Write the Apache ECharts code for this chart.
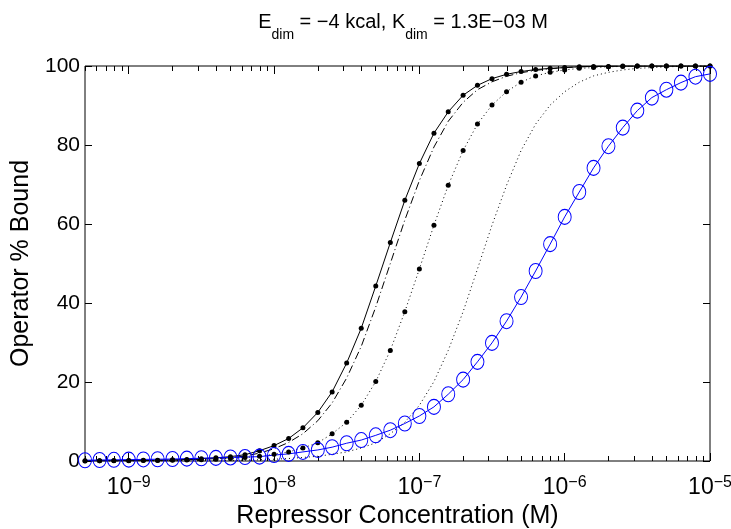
<!DOCTYPE html>
<html><head><meta charset="utf-8">
<script src="https://cdn.jsdelivr.net/npm/echarts@6/dist/echarts.min.js"></script>
<style>html,body{margin:0;padding:0;background:#fff}#c{width:731px;height:529px}</style>
</head><body><div id="c"></div>
<script>
// Repressor concentration (M) at each sampled point
const concentration = [5e-10, 6.3e-10, 7.9e-10, 1e-9, 1.26e-9, 1.58e-9, 2e-9, 2.51e-9, 3.16e-9, 3.98e-9,
  5.01e-9, 6.31e-9, 7.94e-9, 1e-8, 1.26e-8, 1.58e-8, 2e-8, 2.51e-8, 3.16e-8, 3.98e-8,
  5.01e-8, 6.31e-8, 7.94e-8, 1e-7, 1.26e-7, 1.58e-7, 2e-7, 2.51e-7, 3.16e-7, 3.98e-7,
  5.01e-7, 6.31e-7, 7.94e-7, 1e-6, 1.26e-6, 1.58e-6, 2e-6, 2.51e-6, 3.16e-6, 3.98e-6,
  5.01e-6, 6.31e-6, 7.94e-6, 1e-5];
// Operator % bound, per curve
const solidDots = [0.05, 0.07, 0.1, 0.13, 0.17, 0.22, 0.3, 0.4, 0.6, 0.8,
  1.1, 1.6, 2.6, 3.9, 5.7, 8.4, 12.3, 17.5, 24.8, 33.6,
  44.3, 55.3, 66.0, 75.3, 83.0, 88.4, 92.6, 95.1, 96.8, 97.9,
  98.6, 99.1, 99.4, 99.6, 99.8, 99.9, 99.9, 100, 100, 100,
  100, 100, 100, 100];
const dashDot = [0.04, 0.05, 0.07, 0.1, 0.13, 0.17, 0.22, 0.3, 0.45, 0.6,
  0.85, 1.25, 2.0, 3.1, 4.7, 6.9, 10.2, 14.7, 21.0, 29.0,
  39.0, 50.0, 61.0, 71.0, 79.5, 86.0, 90.8, 94.0, 96.0, 97.4,
  98.3, 98.9, 99.3, 99.6, 99.8, 99.9, 100, 100, 100, 100,
  100, 100, 100, 100];
const dottedDots = [0.03, 0.04, 0.05, 0.07, 0.1, 0.13, 0.17, 0.23, 0.32, 0.45,
  0.63, 0.9, 1.2, 1.7, 2.3, 3.3, 4.6, 6.9, 9.8, 14.1,
  20.1, 28.0, 37.8, 48.6, 59.7, 69.8, 78.6, 85.3, 90.1, 93.5,
  95.9, 97.5, 98.4, 99.0, 99.4, 99.6, 99.8, 99.9, 100, 100,
  100, 100, 100, 100];
const dotted = [0.01, 0.01, 0.02, 0.02, 0.03, 0.04, 0.05, 0.07, 0.1, 0.13,
  0.17, 0.23, 0.32, 0.45, 0.63, 0.9, 1.2, 1.7, 2.3, 3.3,
  4.6, 6.9, 9.8, 14.1, 20.1, 28.0, 37.8, 48.6, 59.7, 69.8,
  78.6, 85.3, 90.1, 93.5, 95.9, 97.5, 98.4, 99.0, 99.4, 99.6,
  99.8, 99.9, 100, 100];
const blueCircles = [0.2, 0.25, 0.3, 0.35, 0.4, 0.45, 0.5, 0.6, 0.7, 0.8,
  0.9, 1.0, 1.1, 1.5, 1.8, 2.3, 2.8, 3.5, 4.5, 5.3,
  6.5, 7.8, 9.5, 11.4, 13.7, 16.9, 20.6, 25.1, 29.9, 35.4,
  41.5, 48.1, 54.9, 61.8, 68.1, 74.2, 79.7, 84.4, 88.7, 92.0,
  94.0, 95.8, 97.3, 98.0];

// Axis ticks
const xTickExponents = [-9, -8, -7, -6, -5];
const xMinorMultipliers = [2, 3, 4, 5, 6, 7, 8, 9];
const xMinorDecades = [-10, -9, -8, -7, -6];
const yTicks = [0, 20, 40, 60, 80, 100];
const X_MIN = 5e-10, X_MAX = 1e-5;

const titleText = '{m|E}{s|dim}{m| = \u22124 kcal, K}{s|dim}{m| = 1.3E\u221203 M}';
const xName = 'Repressor Concentration (M)';
const yName = 'Operator % Bound';

const SANS = '"Liberation Sans", Arial, Helvetica, sans-serif';

const logMin = Math.log10(X_MIN), logMax = Math.log10(X_MAX);
const minorVals = [];
xMinorDecades.forEach(e => xMinorMultipliers.forEach(k => {
  const v = k * Math.pow(10, e);
  if (v >= X_MIN && v <= X_MAX) minorVals.push(Math.log10(v));
}));

const pairs = arr => concentration.map((x, i) => [x, arr[i]]);

function decoAxis(position, values, len, labels) {
  return {
    type: 'value', gridIndex: 0, position: position, min: logMin, max: logMax,
    axisLine: { show: false }, splitLine: { show: false },
    axisTick: { show: true, inside: true, length: len, customValues: values,
      lineStyle: { color: '#000', width: 1 } },
    axisLabel: labels ? {
      show: true, customValues: values, margin: 14,
      formatter: v => '{b|10}{s|' + String(Math.round(v)).replace('-', '\u2212') + '}',
      rich: {
        b: { fontFamily: SANS, fontSize: 23, color: '#000', lineHeight: 24, verticalAlign: 'bottom' },
        s: { fontFamily: SANS, fontSize: 16, color: '#000', lineHeight: 24, verticalAlign: 'top' }
      }
    } : { show: false }
  };
}

const chart = echarts.init(document.getElementById('c'), null, { renderer: 'canvas' });
chart.setOption({
  animation: false,
  backgroundColor: '#fff',
  title: {
    text: titleText, left: 398, top: 7, textAlign: 'center',
    textStyle: {
      fontWeight: 'normal',
      rich: {
        m: { fontFamily: SANS, fontSize: 20, fontWeight: 'normal', color: '#000', lineHeight: 30, verticalAlign: 'top' },
        s: { fontFamily: SANS, fontSize: 14, fontWeight: 'normal', color: '#000', lineHeight: 30, verticalAlign: 'bottom' }
      }
    }
  },
  grid: { left: 85, top: 66, width: 625, height: 395, containLabel: false, outerBoundsMode: 'none',
    show: true, borderColor: '#000', borderWidth: 1, backgroundColor: 'transparent' },
  xAxis: [
    { type: 'log', logBase: 10, min: X_MIN, max: X_MAX, show: false },
    Object.assign(decoAxis('bottom', xTickExponents, 8, true), {
      name: xName, nameLocation: 'middle', nameGap: 41,
      nameTextStyle: { fontFamily: SANS, fontSize: 25, color: '#000' } }),
    decoAxis('bottom', minorVals, 5, false),
    decoAxis('top', xTickExponents, 8, false),
    decoAxis('top', minorVals, 5, false)
  ],
  yAxis: [
    { type: 'value', min: yTicks[0], max: yTicks[yTicks.length - 1], interval: 20, position: 'left',
      name: yName, nameLocation: 'middle', nameGap: 42, nameRotate: 90,
      nameTextStyle: { fontFamily: SANS, fontSize: 25, color: '#000' },
      axisLine: { show: false }, splitLine: { show: false },
      axisTick: { inside: true, length: 7, lineStyle: { color: '#000' } },
      axisLabel: { margin: 5, fontFamily: SANS, fontSize: 21, color: '#000' } },
    { type: 'value', min: yTicks[0], max: yTicks[yTicks.length - 1], interval: 20, position: 'right',
      axisLine: { show: false }, splitLine: { show: false },
      axisTick: { inside: true, length: 7, lineStyle: { color: '#000' } },
      axisLabel: { show: false } }
  ],
  series: [
    { type: 'line', name: 'dotted', data: pairs(dotted), xAxisIndex: 0, yAxisIndex: 0,
      showSymbol: false, symbol: 'none', lineStyle: { color: '#000', width: 1, type: [1, 3] } },
    { type: 'line', name: 'dottedDots', data: pairs(dottedDots), xAxisIndex: 0, yAxisIndex: 0,
      symbol: 'circle', symbolSize: 5, itemStyle: { color: '#000' },
      lineStyle: { color: '#000', width: 1, type: [1, 3] } },
    { type: 'line', name: 'dashDot', data: pairs(dashDot), xAxisIndex: 0, yAxisIndex: 0,
      showSymbol: false, symbol: 'none', lineStyle: { color: '#000', width: 1, type: [8, 3, 1, 3] } },
    { type: 'line', name: 'solidDots', data: pairs(solidDots), xAxisIndex: 0, yAxisIndex: 0,
      symbol: 'circle', symbolSize: 5, itemStyle: { color: '#000' },
      lineStyle: { color: '#000', width: 1, type: 'solid' } },
    { type: 'line', name: 'blue', data: pairs(blueCircles), xAxisIndex: 0, yAxisIndex: 0,
      symbol: 'circle', symbolSize: [13, 15],
      itemStyle: { color: 'rgba(0,0,0,0)', borderColor: '#0000ff', borderWidth: 1 },
      lineStyle: { color: '#0000ff', width: 1 } }
  ]
});
</script>
</body></html>
